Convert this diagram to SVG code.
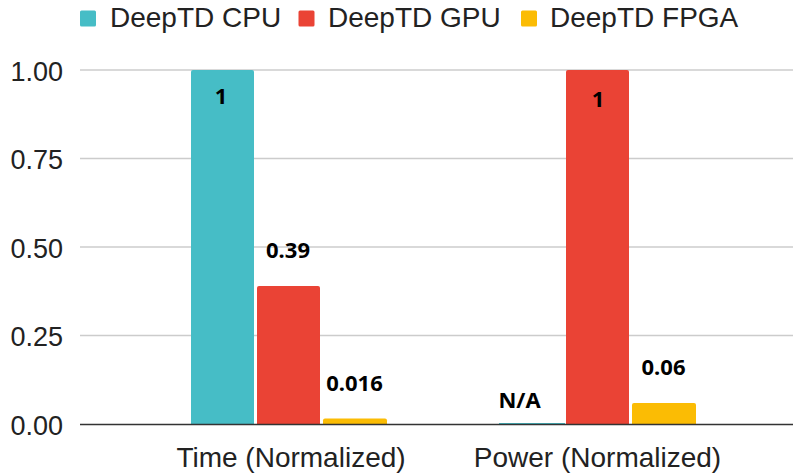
<svg xmlns="http://www.w3.org/2000/svg" width="793" height="473" viewBox="0 0 793 473">
  <style>
    .axis { font-family: "Liberation Sans", Arial, sans-serif; font-size: 27px; fill: #222; }
    .cat { font-family: "Liberation Sans", Arial, sans-serif; font-size: 28px; fill: #222; text-anchor: middle; }
    .leg { font-family: "Liberation Sans", Arial, sans-serif; font-size: 28px; fill: #222; }
    .val { font-family: "Noto Sans", "Open Sans", sans-serif; font-size: 22px; font-weight: bold; fill: #000; text-anchor: middle; }
    .grid { stroke: #cccccc; stroke-width: 1.5; }
    .cpu { fill: #46bdc6; }
    .gpu { fill: #ea4335; }
    .fpga { fill: #fbbc04; }
  </style>
  <rect width="793" height="473" fill="#ffffff"/>

  <!-- legend -->
  <g id="legend">
    <rect class="cpu" x="80" y="10.5" width="16" height="16" rx="1.5"/>
    <text class="leg" x="110" y="27">DeepTD CPU</text>
    <rect class="gpu" x="298.5" y="10.5" width="16" height="16" rx="1.5"/>
    <text class="leg" x="328" y="27">DeepTD GPU</text>
    <rect class="fpga" x="521" y="10.5" width="16" height="16" rx="1.5"/>
    <text class="leg" x="550" y="27">DeepTD FPGA</text>
  </g>

  <!-- value axis and grid -->
  <g id="axis">
    <line class="grid" x1="80" y1="70" x2="793" y2="70"/>
    <line class="grid" x1="80" y1="158.5" x2="793" y2="158.5"/>
    <line class="grid" x1="80" y1="247" x2="793" y2="247"/>
    <line class="grid" x1="80" y1="335.5" x2="793" y2="335.5"/>
    <text class="axis" x="63" y="80.5" text-anchor="end">1.00</text>
    <text class="axis" x="63" y="169" text-anchor="end">0.75</text>
    <text class="axis" x="63" y="257.5" text-anchor="end">0.50</text>
    <text class="axis" x="63" y="346" text-anchor="end">0.25</text>
    <text class="axis" x="63" y="434.5" text-anchor="end">0.00</text>
  </g>

  <!-- Time (Normalized) -->
  <g id="time-cpu">
    <path class="cpu" d="M191,424 V72 a2,2 0 0 1 2,-2 H252 a2,2 0 0 1 2,2 V424 Z"/>
    <text class="val" x="221" y="103.5">1</text>
  </g>
  <g id="time-gpu">
    <path class="gpu" d="M257,424 V288 a2,2 0 0 1 2,-2 H318 a2,2 0 0 1 2,2 V424 Z"/>
    <text class="val" x="288" y="258">0.39</text>
  </g>
  <g id="time-fpga">
    <path class="fpga" d="M323,424 V420.5 a2,2 0 0 1 2,-2 H385 a2,2 0 0 1 2,2 V424 Z"/>
    <text class="val" x="354.5" y="391">0.016</text>
  </g>

  <!-- Power (Normalized) -->
  <g id="power-cpu">
    <rect class="cpu" x="499" y="423" width="66" height="1.5"/>
    <text class="val" x="519.5" y="408">N/A</text>
  </g>
  <g id="power-gpu">
    <path class="gpu" d="M566,424 V72 a2,2 0 0 1 2,-2 H627 a2,2 0 0 1 2,2 V424 Z"/>
    <text class="val" x="598" y="106.5">1</text>
  </g>
  <g id="power-fpga">
    <path class="fpga" d="M632,424 V405 a2,2 0 0 1 2,-2 H694 a2,2 0 0 1 2,2 V424 Z"/>
    <text class="val" x="663.5" y="375">0.06</text>
  </g>

  <!-- baseline and categories -->
  <g id="baseline">
    <line x1="80" y1="424.5" x2="793" y2="424.5" stroke="#333333" stroke-width="1.5"/>
    <text class="cat" x="291" y="467">Time (Normalized)</text>
    <text class="cat" x="597.5" y="467">Power (Normalized)</text>
  </g>
</svg>
